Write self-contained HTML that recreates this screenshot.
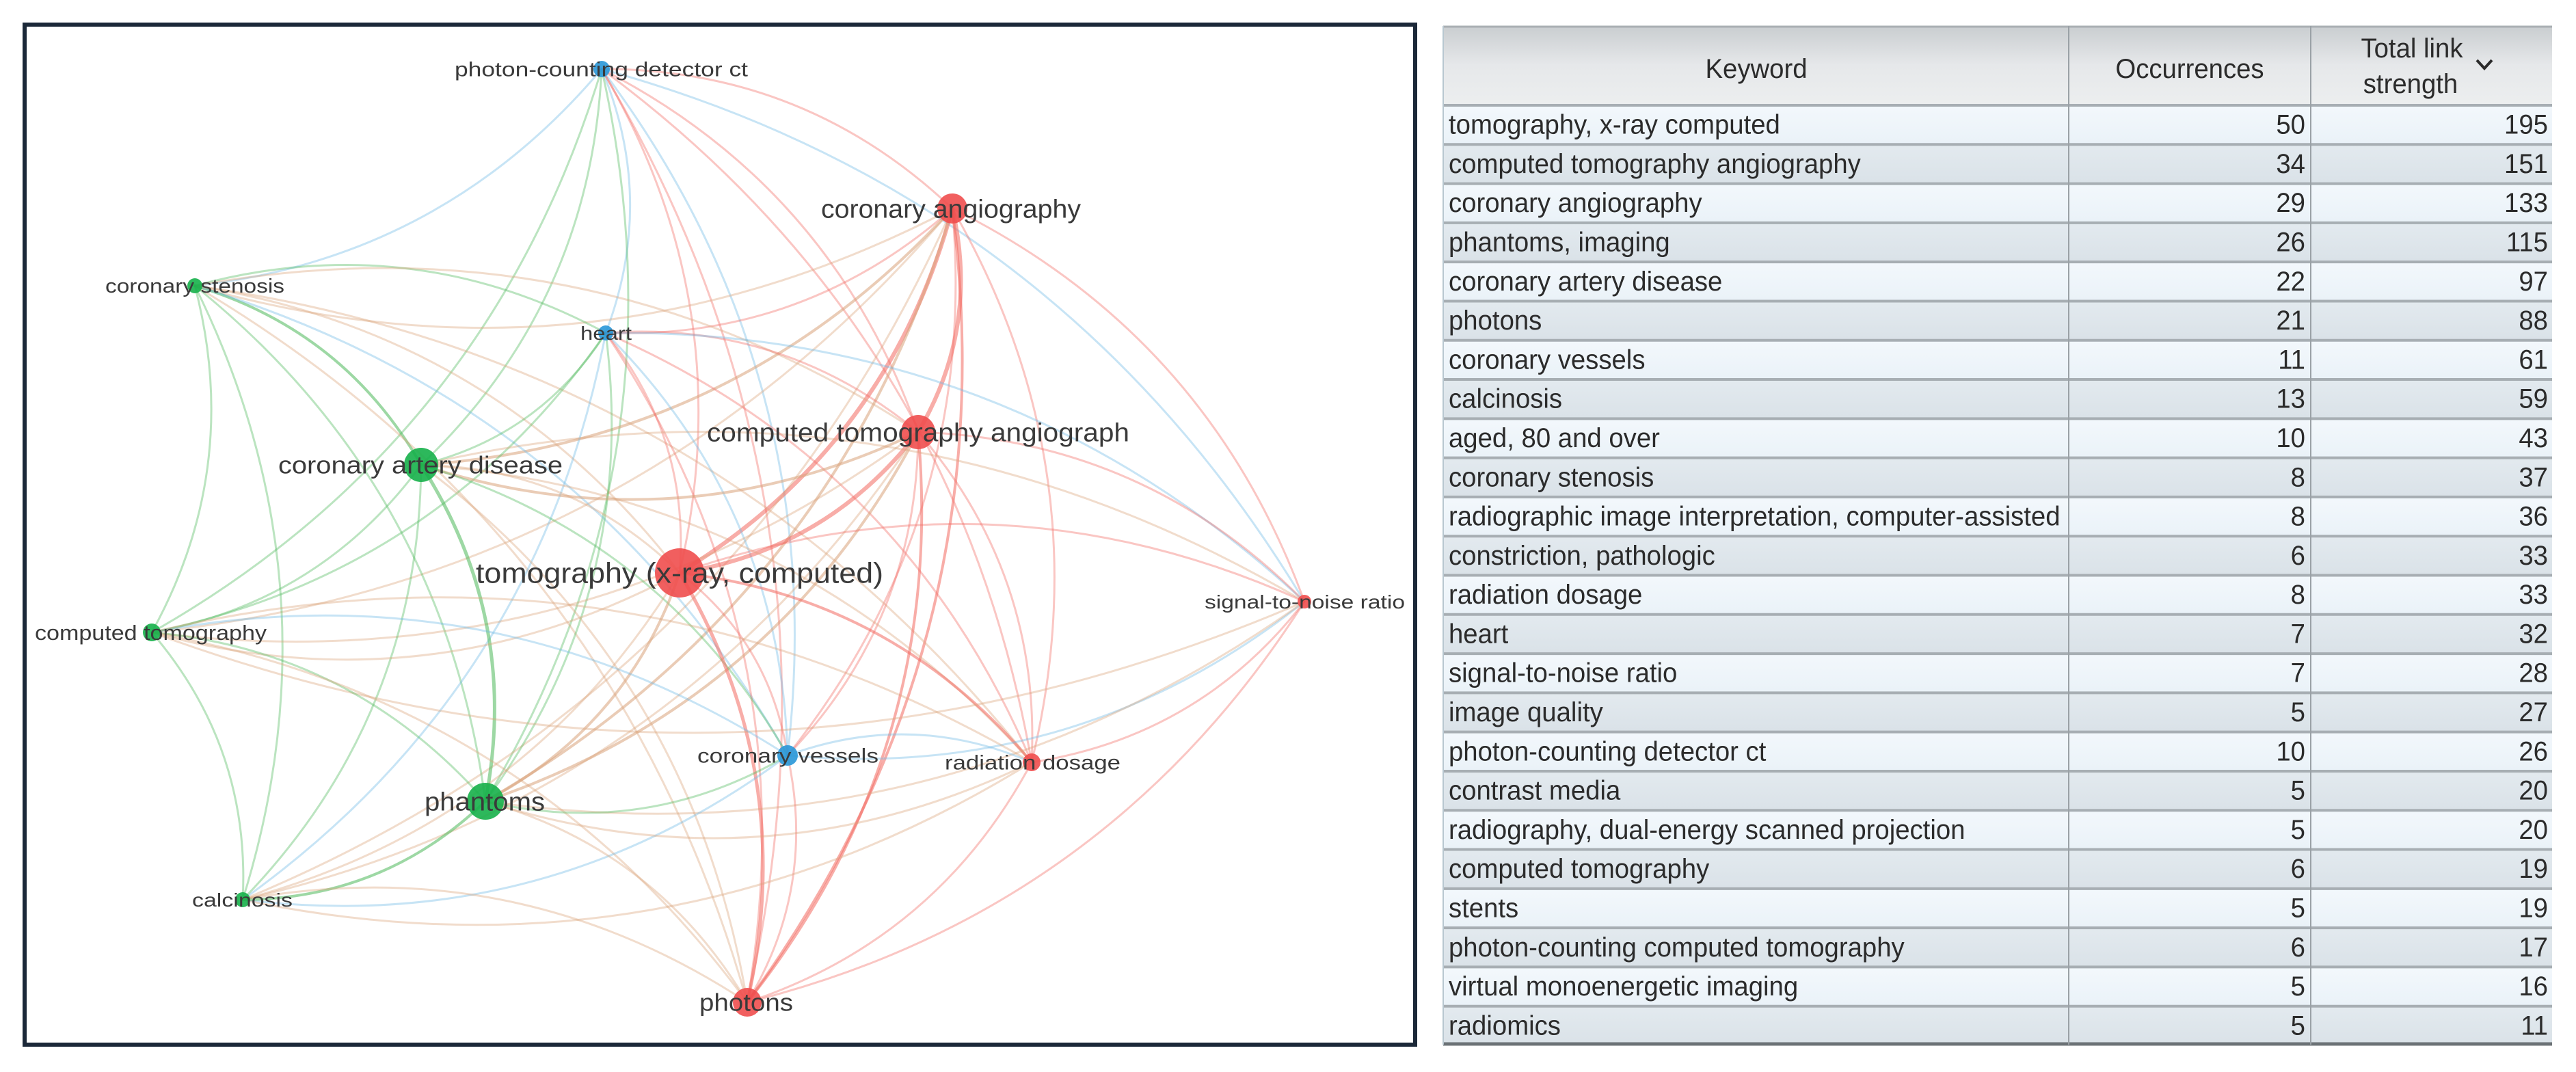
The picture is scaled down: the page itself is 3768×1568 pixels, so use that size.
<!DOCTYPE html>
<html><head><meta charset="utf-8"><style>
html,body{margin:0;padding:0;background:#fff;width:3768px;height:1568px;overflow:hidden}
svg{display:block}
</style></head><body>
<svg id="s" width="3768" height="1568" viewBox="0 0 3768 1568" xmlns="http://www.w3.org/2000/svg">
<defs>
<linearGradient id="hg" x1="0" y1="0" x2="0" y2="1"><stop offset="0" stop-color="#c9cdd0"/><stop offset="0.5" stop-color="#e6e8ea"/><stop offset="1" stop-color="#eceeef"/></linearGradient>
<linearGradient id="r1" x1="0" y1="0" x2="0" y2="1"><stop offset="0" stop-color="#f3f8fc"/><stop offset="1" stop-color="#eaf2f8"/></linearGradient>
<linearGradient id="r2" x1="0" y1="0" x2="0" y2="1"><stop offset="0" stop-color="#e3eaef"/><stop offset="1" stop-color="#dae2e8"/></linearGradient>
</defs>
<rect width="3768" height="1568" fill="#fff"/>
<g id="edges" fill="none" stroke-linecap="round"></g>
<g id="nodes"></g>
<g id="labels" font-family="'Liberation Sans', sans-serif" fill="#3a3a3a"></g>
<rect x="36" y="36" width="2034" height="1492" fill="none" stroke="#1b2838" stroke-width="6"/>
<g id="table"></g>
</svg>
<script>
var NS="http://www.w3.org/2000/svg";
function el(t,a,p,txt){var e=document.createElementNS(NS,t);for(var k in a)e.setAttribute(k,a[k]);if(txt!=null)e.textContent=txt;(p||document.getElementById('s')).appendChild(e);return e;}
var N=[
["photon-counting detector ct",880,101,12,"b",665,1094,30],
["coronary angiography",1393,305,22,"r",1201,1581,38],
["coronary stenosis",285,418,11,"g",154,416,29],
["heart",886,487,11,"b",849,924,28],
["computed tomography angiograph",1343,632,25,"r",1034,1652,38],
["coronary artery disease",616,680,25,"g",407,823,36],
["tomography (x-ray, computed)",994,838,36,"r",696,1292,42],
["signal-to-noise ratio",1908,880,10,"r",1762,2055,28],
["computed tomography",222,925,13,"g",51,390,31],
["coronary vessels",1152,1105,15,"b",1020,1285,30],
["radiation dosage",1509,1115,13,"r",1382,1639,30],
["phantoms",710,1172,27,"g",621,797,38],
["calcinosis",355,1316,11,"g",281,428,28],
["photons",1093,1466,21,"r",1023,1160,36]];
var NC={r:"#f04e4e",g:"#16b04a",b:"#2997d8"},EC={r:"#f26a60",g:"#4cb85a",b:"#6cb8e6"};
var strong={"6-4":6,"6-1":6,"1-4":6,"6-13":5,"5-11":5,"4-13":4,"6-11":4,"1-13":4,"5-4":4,"5-1":4,"11-1":4,"11-4":4,"6-10":4,"2-5":4,"8-11":3,"12-11":4};
var E=document.getElementById('edges');
var skip={"7-2":1,"7-12":1,"0-12":1};
for(var i=0;i<N.length;i++)for(var j=i+1;j<N.length;j++){
 if(skip[i+"-"+j]||skip[j+"-"+i])continue;
 var a=N[i],b=N[j];
 var s=(N[i][3]>=N[j][3])?a:b;
 var dx=b[1]-a[1],dy=b[2]-a[2];
 var cx=(a[1]+b[1])/2+dy*0.2,cy=(a[2]+b[2])/2-dx*0.2;
 var w=strong[i+"-"+j]||strong[j+"-"+i]||3;
 var col=EC[s[4]];
 if(a[4]!=b[4]&&a[4]!="b"&&b[4]!="b")col="#d9a27a";
 el("path",{d:"M"+a[1]+","+a[2]+" Q"+cx.toFixed(1)+","+cy.toFixed(1)+" "+b[1]+","+b[2],stroke:col,"stroke-width":w,"stroke-opacity":w>3?0.55:0.38},E);
}
var ND=document.getElementById('nodes'),LB=document.getElementById('labels');
N.forEach(function(n){el("circle",{cx:n[1],cy:n[2],r:n[3],fill:NC[n[4]],"fill-opacity":0.9},ND);});
N.forEach(function(n){el("text",{x:n[5],y:n[2]+n[7]*0.35,"font-size":n[7],textLength:n[6]-n[5],lengthAdjust:"spacingAndGlyphs"},LB,n[0]);});
var T=document.getElementById('table');
var rows=[["tomography, x-ray computed",50,195],["computed tomography angiography",34,151],["coronary angiography",29,133],["phantoms, imaging",26,115],["coronary artery disease",22,97],["photons",21,88],["coronary vessels",11,61],["calcinosis",13,59],["aged, 80 and over",10,43],["coronary stenosis",8,37],["radiographic image interpretation, computer-assisted",8,36],["constriction, pathologic",6,33],["radiation dosage",8,33],["heart",7,32],["signal-to-noise ratio",7,28],["image quality",5,27],["photon-counting detector ct",10,26],["contrast media",5,20],["radiography, dual-energy scanned projection",5,20],["computed tomography",6,19],["stents",5,19],["photon-counting computed tomography",6,17],["virtual monoenergetic imaging",5,16],["radiomics",5,11]];
var X0=2111,X1=3733,C1=3026,C2=3380,Y0=153,H=(1528-153)/24;
el("rect",{x:X0,y:38,width:X1-X0,height:Y0-38,fill:"url(#hg)"},T);
el("line",{x1:X0,y1:39,x2:X1,y2:39,stroke:"#a9afb3","stroke-width":3},T);
var F="'Liberation Sans Narrow','Liberation Sans',sans-serif";
rows.forEach(function(r,k){var y=Y0+k*H;
 el("rect",{x:X0,y:y,width:X1-X0,height:H,fill:k%2?"url(#r2)":"url(#r1)"},T);
 el("line",{x1:X0,y1:y+1,x2:X1,y2:y+1,stroke:"#a7aeb3","stroke-width":4},T);
});
el("line",{x1:X0,y1:1527,x2:X1,y2:1527,stroke:"#6b7276","stroke-width":5},T);
[C1,C2].forEach(function(x){el("line",{x1:x,y1:38,x2:x,y2:1528,stroke:"#9aa1a6","stroke-width":2},T);});
el("line",{x1:X0,y1:38,x2:X0,y2:1528,stroke:"#b8c7d0","stroke-width":2},T);
var tg=el("g",{"font-family":F,fill:"#2b2b2b","font-size":40},T);
var all=[];
function sx(t,x){all.push([t,x]);}
var kw=[];
rows.forEach(function(r,k){var yc=Y0+k*H+H/2+14;
 var t=el("text",{x:X0+8,y:yc},tg,r[0]);kw.push(t);sx(t,X0+8);
 sx(el("text",{x:C2-8,y:yc,"text-anchor":"end"},tg,String(r[1])),C2-8);
 sx(el("text",{x:X1-6,y:yc,"text-anchor":"end"},tg,String(r[2])),X1-6);
});
sx(el("text",{x:2569,y:114,"text-anchor":"middle"},tg,"Keyword"),2569);
sx(el("text",{x:3203,y:114,"text-anchor":"middle"},tg,"Occurrences"),3203);
sx(el("text",{x:3528,y:84,"text-anchor":"middle"},tg,"Total link"),3528);
sx(el("text",{x:3526,y:136,"text-anchor":"middle"},tg,"strength"),3526);
var sc=0.8;
try{var w=kw[10].getComputedTextLength();if(w>0)sc=895/w;}catch(e){}
all.forEach(function(p){p[0].setAttribute("transform","translate("+p[1]+",0) scale("+sc+",1) translate("+(-p[1])+",0)");});
el("path",{d:"M3623,88 L3634,100 L3645,88",fill:"none",stroke:"#2b2b2b","stroke-width":4},T);
</script>
</body></html>
